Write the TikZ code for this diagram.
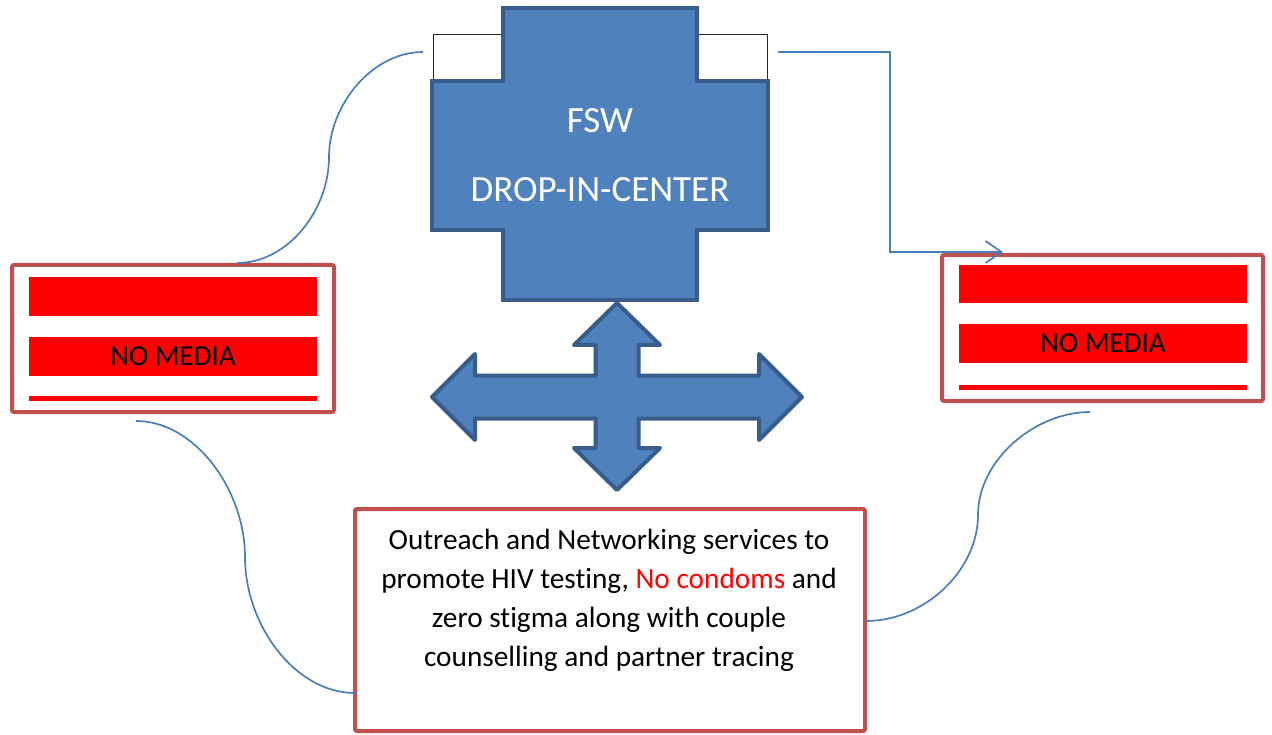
\documentclass[tikz,border=0pt]{standalone}
\usepackage{fontspec}
\setmainfont[Ligatures=NoCommon]{Carlito}
\usetikzlibrary{arrows.meta}

\definecolor{crossblue}{HTML}{4F81BD}
\definecolor{crossedge}{HTML}{385D8A}
\definecolor{boxedge}{HTML}{C0504D}
\definecolor{barred}{HTML}{FF0000}
\definecolor{linkblue}{HTML}{4A7EBB}

\tikzset{
  tab/.style={draw=black!85, line width=0.9, fill=white, minimum width=70, minimum height=47, inner sep=0},
  bigshape/.style={draw=crossedge, fill=crossblue, line width=4, line join=miter},
  mediabox/.style={draw=boxedge, line width=4, rounded corners=2, fill=white, inner sep=0},
  redbar/.style={fill=barred, inner sep=0, minimum width=288},
  link/.style={draw=linkblue, line width=1.7},
  headtext/.style={text=white, font=\fontsize{37}{44}\selectfont},
  bartext/.style={text=black, font=\fontsize{29}{35}\selectfont},
  bodytext/.style={text=black, align=center, font=\fontsize{29.3}{39}\selectfont}
}

\begin{document}
\begin{tikzpicture}[x=1pt, y=-1pt]
\useasboundingbox (0,0) rectangle (1272,735);

% small tabs behind the cross
\node[tab] (ltab) at (468,57.5) {};
\node[tab] (rtab) at (732,57.5) {};

% drop-in-center cross
\path[bigshape] (503,8) -- (697,8) -- (697,81) -- (768,81) -- (768,230)
  -- (697,230) -- (697,300) -- (503,300) -- (503,230) -- (432,230)
  -- (432,81) -- (503,81) -- cycle;
\node[headtext] (fsw) at (600,121) {FSW};
\node[headtext] (dic) at (600,190) {DROP-IN-CENTER};

% four-way arrow
\path[bigshape, line join=round]
  (617,303) -- (660,345) -- (638.5,345) -- (638.5,375.5) -- (759,375.5)
  -- (759,354) -- (802,397) -- (759,440) -- (759,418.5) -- (638.5,418.5)
  -- (638.5,448) -- (660,448) -- (617,490) -- (574,448) -- (595.5,448)
  -- (595.5,418.5) -- (475,418.5) -- (475,440) -- (432,397) -- (475,354)
  -- (475,375.5) -- (595.5,375.5) -- (595.5,345) -- (574,345) -- cycle;

% left media box
\node[mediabox, minimum width=322, minimum height=147] (lmedia) at (173,338.5) {};
\node[redbar, minimum height=39] (lbar1) at (173,296.5) {};
\node[redbar, minimum height=39] (lbar2) at (173,356.5) {};
\node[bartext] (ltext) at (lbar2) {NO MEDIA};
\node[redbar, minimum height=5] (lbar3) at (173,398.5) {};

% right media box
\node[mediabox, minimum width=321, minimum height=146] (rmedia) at (1102.5,328) {};
\node[redbar, minimum height=38] (rbar1) at (1103,284) {};
\node[redbar, minimum height=39] (rbar2) at (1103,343.5) {};
\node[bartext] (rtext) at (rbar2) {NO MEDIA};
\node[redbar, minimum height=5] (rbar3) at (1103,387.5) {};

% services box
\node[mediabox, minimum width=510, minimum height=222] (svc) at (610,620) {};
\node[bodytext] (svctext) at (609,600)
  {Outreach and Networking services to\\
   promote HIV testing, \textcolor{barred}{No condoms} and\\
   zero stigma along with couple\\
   counselling and partner tracing};

% connector end points
\coordinate (rtabout) at (778,52);
\coordinate (rin) at (1003,252);
\coordinate (ltabout) at (423,52);
\coordinate (lmtop) at (237,263);
\coordinate (lmbot) at (136,421);
\coordinate (svcleft) at (355,693);
\coordinate (rmbot) at (1090,412);
\coordinate (svcright) at (866,621);

% connectors
\draw[link, -{Straight Barb[length=16pt, width=22pt]}]
  (rtabout) -- (890,52) -- (890,252) -- (rin);
\draw[link] (ltabout) .. controls (372,52) and (329,105) .. (329,157)
  .. controls (329,210) and (288,263) .. (lmtop);
\draw[link] (lmbot) .. controls (195,421) and (245,490) .. (245,557)
  .. controls (245,625) and (295,693) .. (svcleft);
\draw[link] (rmbot) .. controls (1035,412) and (978,460) .. (978,515)
  .. controls (978,570) and (925,621) .. (svcright);
\end{tikzpicture}
\end{document}
